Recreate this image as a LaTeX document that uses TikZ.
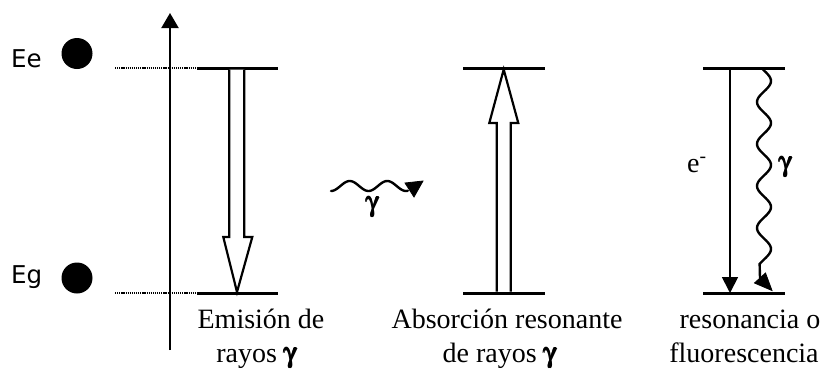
\documentclass[tikz,border=0pt]{standalone}
\usepackage{amsbsy}
\usepackage[Symbol]{upgreek}
\usepackage{fontspec}
\setmainfont{Liberation Serif}
\newfontfamily\comicfont{DejaVu Sans}
\usetikzlibrary{arrows.meta}
\newcommand{\gsym}{$\pmb{\upgamma}$}
\begin{document}
\begin{tikzpicture}[x=1pt,y=-1pt,
  level/.style={line width=3pt},
  dotlevel/.style={line width=1.6pt,dash pattern=on 1.2pt off 0.9pt},
  hollow/.style={line width=2.2pt,fill=white,line join=miter},
  lbl/.style={font=\fontsize{28}{34}\selectfont,inner sep=0pt,anchor=base},
  elbl/.style={font=\comicfont\fontsize{24.5}{28}\selectfont,inner sep=0pt,anchor=base west},
  gam/.style={font=\fontsize{28}{30}\selectfont,inner sep=0pt},
  wave/.style={line width=2.4pt},
  headfill/.style={fill=black,draw=black,line width=0.8pt,line join=miter}]
\useasboundingbox (0,0) rectangle (830,370);

% labels Ee / Eg with dots
\node[elbl] (Ee) at (11,67) {Ee};
\node[elbl] (Eg) at (11,283) {Eg};
\fill (77,53.5) circle (15.5);
\fill (77,278) circle (15.5);

% energy axis
\coordinate (ax0) at (170,350);
\coordinate (ax1) at (170,13);
\draw[line width=2pt,-{Triangle[length=15pt,width=17pt]}] (ax0) -- (ax1);

% left levels
\coordinate (lu0) at (115,68); \coordinate (lu1) at (197,68); \coordinate (lu2) at (278,68);
\coordinate (ld0) at (115,293); \coordinate (ld1) at (197,293); \coordinate (ld2) at (278,293);
\draw[dotlevel] (lu0) -- (lu1);
\draw[dotlevel] (ld0) -- (ld1);
\draw[level] (lu1) -- (lu2);
\draw[level] (ld1) -- (ld2);

% hollow emission arrow
\draw[hollow] (229.3,69.5) -- (229.3,237) -- (223.3,237) -- (237,292) -- (252.3,237) -- (244.3,237) -- (244.3,69.5);

\node[lbl] (emi1) at (261,328) {Emisión de};
\node[lbl] (emi2) at (257,362) {rayos \gsym};

% middle photon
\draw[wave,line cap=round] plot[domain=0:2.05,samples=60] ({331+\x*37.5},{186+5*cos(\x*360)});
\draw[headfill] (405,183) -- (423,181) -- (414,197) -- cycle;
\node[gam] (g1) at (373,207) {\gsym};

% middle levels
\coordinate (mu0) at (463,68); \coordinate (mu1) at (545,68);
\coordinate (md0) at (463,293); \coordinate (md1) at (545,293);
\draw[level] (mu0) -- (mu1);
\draw[level] (md0) -- (md1);
\draw[hollow] (496.7,291.5) -- (496.7,123) -- (489.3,123) -- (503.7,69.5) -- (518.3,123) -- (510.7,123) -- (510.7,291.5);

\node[lbl] (abs1) at (507,328) {Absorción resonante};
\node[lbl] (abs2) at (500,362) {de rayos \gsym};

% right levels
\coordinate (ru0) at (703,68); \coordinate (ru1) at (785,68);
\coordinate (rd0) at (703,293); \coordinate (rd1) at (785,293);
\draw[level] (ru0) -- (ru1);
\draw[level] (rd0) -- (rd1);

\coordinate (e0) at (730,68); \coordinate (e1) at (730,293);
\draw[line width=1.8pt,-{Triangle[length=16pt,width=16pt]}] (e0) -- (e1);
\node[lbl,anchor=base west] (em) at (687,172) {e\textsuperscript{-}};

\draw[wave] plot[domain=68:264,samples=120] ({764+7*cos((\x-123)/42*360)},\x) -- (760,278);
\draw[headfill] (754.5,283) -- (765.5,273) -- (772,290.5) -- cycle;
\node[gam] (g2) at (786,167) {\gsym};

\node[lbl] (res1) at (750,328) {resonancia o};
\node[lbl] (res2) at (744,362) {fluorescencia};
\end{tikzpicture}
\end{document}
